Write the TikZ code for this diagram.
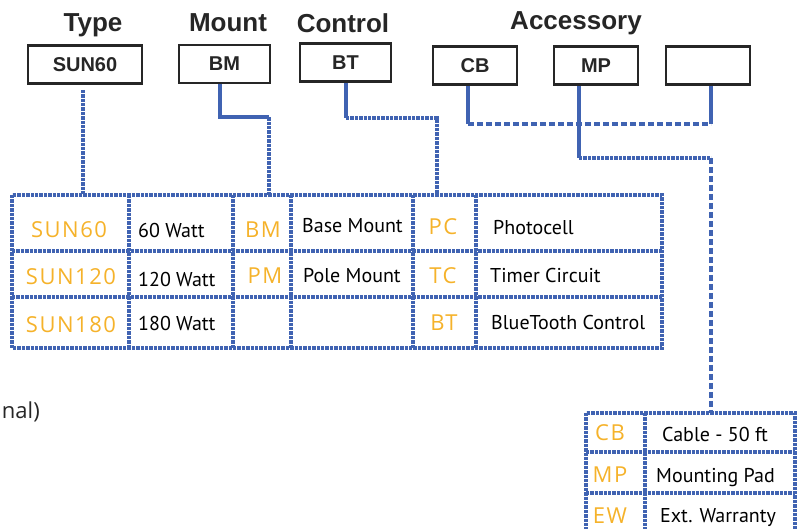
\documentclass[tikz,border=0pt]{standalone}
\usepackage{fontspec}
\setmainfont{Liberation Sans}
\newfontfamily\tabfont{PT Sans}
\newfontfamily\codefont[LetterSpace=7]{Open Sans}
\newfontfamily\notefont{Open Sans}
\definecolor{lineblue}{HTML}{4063B2}
\definecolor{codeorange}{HTML}{F5B22A}
\definecolor{boxblack}{HTML}{262626}
\begin{document}
\begin{tikzpicture}[x=1pt,y=-1pt,
  hdr/.style={anchor=base,inner sep=0pt,font=\fontsize{26}{28}\selectfont\bfseries,text=boxblack},
  selbox/.style={draw=boxblack,line width=2.6pt,minimum height=38pt,inner sep=0pt,font=\fontsize{20}{22}\selectfont\bfseries,text=boxblack},
  gridline/.style={draw=lineblue,line width=4pt,dash pattern=on 3.4pt off 1pt},
  dotline/.style={draw=lineblue,line width=4pt,dash pattern=on 3.4pt off 1pt},
  dashline/.style={draw=lineblue,line width=4pt,dash pattern=on 6pt off 3pt},
  solidline/.style={draw=lineblue,line width=4pt},
  code/.style={anchor=base,inner sep=0pt,text=codeorange,font=\codefont\fontsize{22}{24}\selectfont},
  desc/.style={anchor=base west,inner sep=0pt,text=black,font=\tabfont\fontsize{20}{22}\selectfont}]
\useasboundingbox (0,0) rectangle (802,529);
\clip (0,0) rectangle (802,529);

% headers
\node[hdr] (hType) at (93,32) {Type};
\node[hdr] (hMount) at (228,32) {Mount};
\node[hdr] (hCtrl) at (343,33) {Control};
\node[hdr] (hAcc) at (576,30) {Accessory};

% selection boxes
\node[selbox,minimum width=114pt] (bType) at (85,64.5) {SUN60};
\node[selbox,minimum width=91pt] (bMount) at (224.5,64) {BM};
\node[selbox,minimum width=91pt] (bCtrl) at (345.5,62.5) {BT};
\node[selbox,minimum width=84pt] (bAcc1) at (475,65.5) {CB};
\node[selbox,minimum width=84pt] (bAcc2) at (596,65.5) {MP};
\node[selbox,minimum width=84pt] (bAcc3) at (708,65.5) {};

% main table grid
\draw[gridline] (12,195) rectangle (662,348);
\draw[gridline] (12,251) -- (662,251);
\draw[gridline] (12,297) -- (662,297);
\foreach \x in {129,233,291,413,476} \draw[gridline] (\x,195) -- (\x,348);

% accessory table grid
\draw[gridline] (586,413) rectangle (795,545);
\draw[gridline] (586,452) -- (795,452);
\draw[gridline] (586,493) -- (795,493);
\draw[gridline] (645,413) -- (645,545);

% connection points
\coordinate (tType) at (83,195);
\coordinate (tMount) at (269,195);
\coordinate (tCtrl) at (437,195);
\coordinate (tAcc) at (711,413);

% connectors
\draw[dotline] (bType.south) ++(-2,5) -- (tType);
\draw[solidline] (bMount.south) ++(-4.5,0) coordinate (m0) -- ++(0,33) coordinate (m1) -- (m1 -| tMount) coordinate (m2);
\draw[dotline] (m2) -- (tMount);
\draw[solidline] (bCtrl.south) ++(0.5,0) coordinate (c0) -- ++(0,35) coordinate (c1);
\draw[dotline] (c1) -- (c1 -| tCtrl) -- (tCtrl);
\draw[solidline] (bAcc1.south) ++(-7,0) -- ++(0,38) coordinate (a1);
\draw[solidline] (bAcc3.south) ++(3,0) -- ++(0,38) coordinate (a3);
\draw[dashline] (a1) -- (a3);
\draw[solidline] (bAcc2.south) ++(-17,0) -- ++(0,72) coordinate (p1);
\draw[dotline] (p1) -- (p1 -| tAcc) coordinate (p2);
\draw[dashline] (p2) -- (tAcc);

% main table text
\node[code] (c11) at (69,237) {SUN60};
\node[desc] (d11) at (138,237) {60 Watt};
\node[code] (c12) at (263,237) {BM};
\node[desc] (d12) at (302,233) {Base Mount};
\node[code] (c13) at (443,234) {PC};
\node[desc] (d13) at (493,234) {Photocell};

\node[code] (c21) at (71,284) {SUN120};
\node[desc] (d21) at (138,286) {120 Watt};
\node[code] (c22) at (265,283) {PM};
\node[desc] (d22) at (303,282) {Pole Mount};
\node[code] (c23) at (443,283) {TC};
\node[desc] (d23) at (490,282) {Timer Circuit};

\node[code] (c31) at (71,332) {SUN180};
\node[desc] (d31) at (138,330) {180 Watt};
\node[code] (c33) at (444,330) {BT};
\node[desc] (d33) at (491,329) {BlueTooth Control};

% accessory table text
\node[code] (e1) at (610,440) {CB};
\node[desc] (f1) at (662,441) {Cable - 50 ft};
\node[code] (e2) at (610,482) {MP};
\node[desc] (f2) at (656,482) {Mounting Pad};
\node[code] (e3) at (610,523) {EW};
\node[desc] (f3) at (660,522) {Ext. Warranty};

% cut-off note
\node[anchor=base east,inner sep=0pt,font=\notefont\fontsize{22}{24}\selectfont,text=boxblack] (note) at (40,418) {nal)};
\end{tikzpicture}
\end{document}
